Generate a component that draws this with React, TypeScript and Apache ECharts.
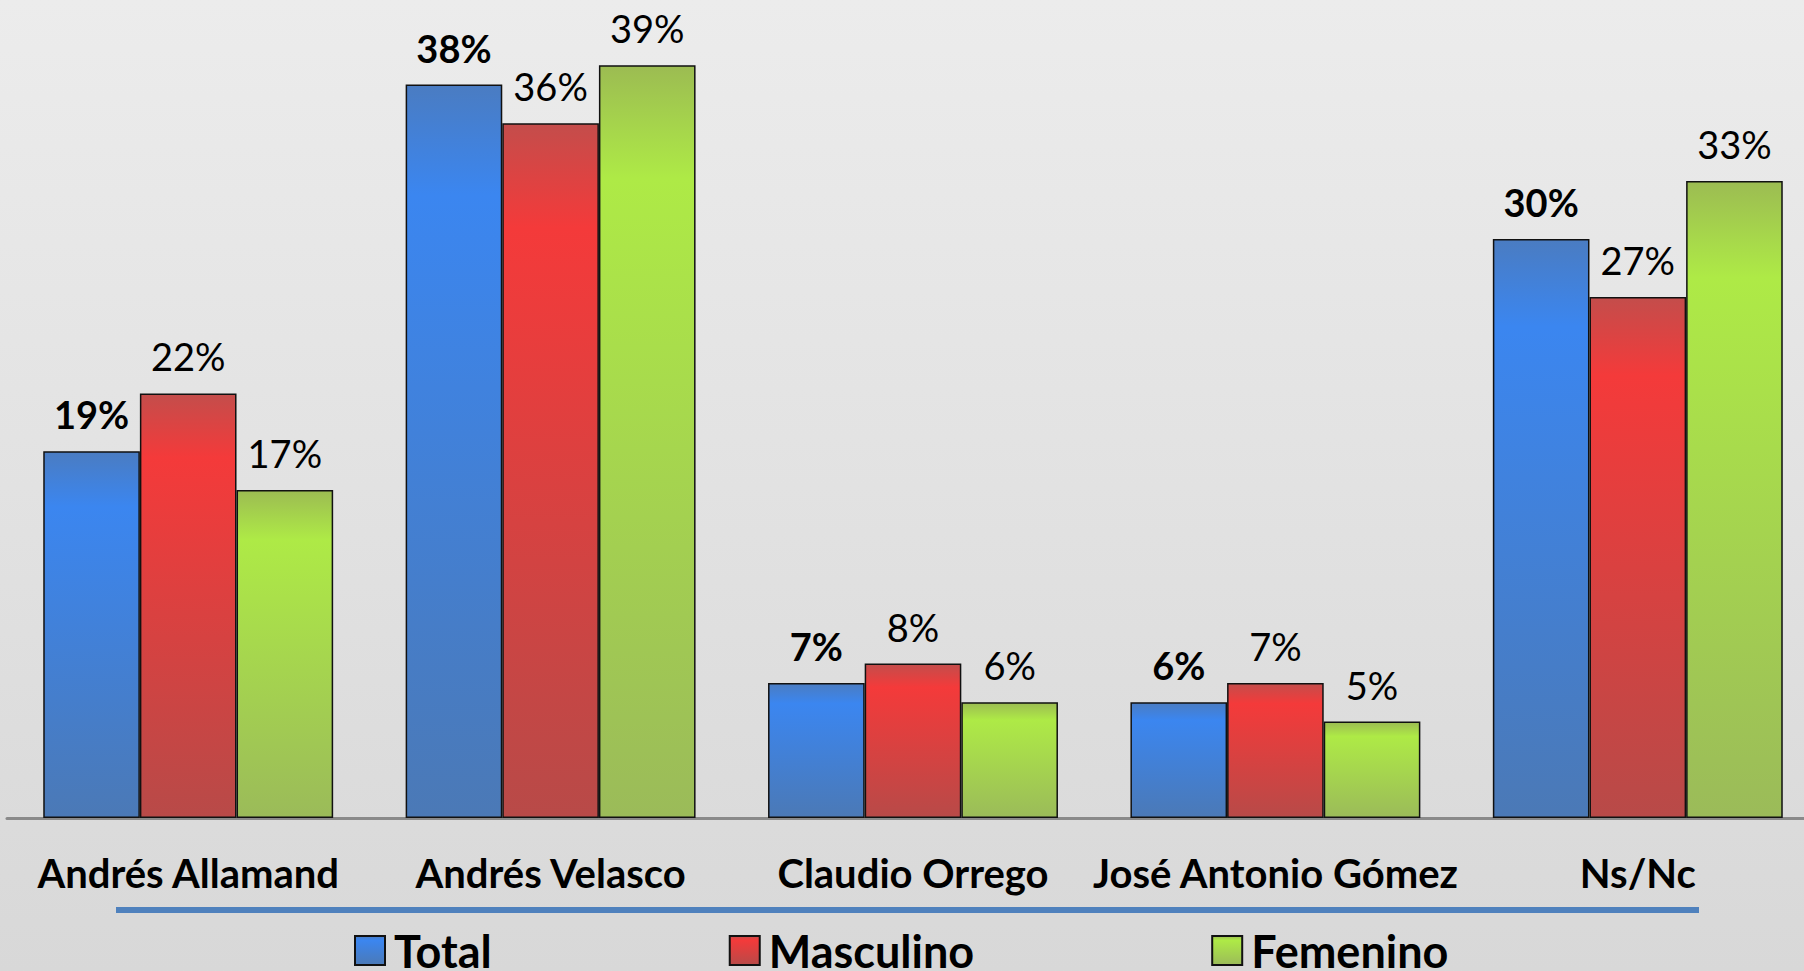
import React, { useEffect, useRef } from "react";
import * as echarts from "echarts";

const categories = ["Andrés Allamand", "Andrés Velasco", "Claudio Orrego", "José Antonio Gómez", "Ns/Nc"];
const seriesNames = ["Total", "Masculino", "Femenino"];
const totalValues = [19, 38, 7, 6, 30];
const masculinoValues = [22, 36, 8, 7, 27];
const femeninoValues = [17, 39, 6, 5, 33];

const FONT = "Lato, 'Open Sans', sans-serif";

function grad(top: string, bright: string, bottom: string) {
  return new echarts.graphic.LinearGradient(0, 0, 0, 1, [
    { offset: 0, color: top },
    { offset: 0.15, color: bright },
    { offset: 1, color: bottom },
  ]);
}

export default function App() {
  const ref = useRef<HTMLDivElement>(null);
  useEffect(() => {
    if (!ref.current) return;
    const chart = echarts.init(ref.current, undefined, { renderer: "svg" });
    const mk = (name: string, data: number[], colors: [string, string, string], bold: boolean) => ({
      name,
      type: "bar",
      data,
      barGap: "0%",
      barCategoryGap: "20%",
      itemStyle: {
        color: grad(colors[0], colors[1], colors[2]),
        borderColor: "#111",
        borderWidth: 1.5,
      },
      label: {
        show: true,
        position: "top",
        distance: 18,
        formatter: "{c}%",
        fontFamily: FONT,
        fontSize: 38,
        fontWeight: bold ? "bold" : "normal",
        color: "#000",
      },
    });
    chart.setOption({
      animation: false,
      backgroundColor: new echarts.graphic.LinearGradient(0, 0, 0, 1, [
        { offset: 0, color: "#ececec" },
        { offset: 1, color: "#d8d8d8" },
      ]),
      grid: { left: 7, width: 1812, top: 46, height: 772, containLabel: false },
      xAxis: {
        type: "category",
        data: categories,
        axisLine: { show: true, lineStyle: { color: "#8a8a8a", width: 3 } },
        axisTick: { show: false },
        axisLabel: {
          margin: 35,
          fontFamily: FONT,
          fontSize: 40,
          fontWeight: "bold",
          color: "#000",
          interval: 0,
        },
      },
      yAxis: {
        type: "value",
        min: 0,
        max: 40,
        show: false,
        splitLine: { show: false },
      },
      legend: {
        data: seriesNames,
        left: 349,
        top: 923,
        itemWidth: 30,
        itemHeight: 29,
        itemGap: 237,
        icon: "rect",
        textStyle: {
          fontFamily: FONT,
          fontSize: 45,
          fontWeight: "bold",
          color: "#000",
          padding: [0, 0, 0, 4],
        },
      },
      graphic: [
        {
          type: "line",
          shape: { x1: 116, y1: 910, x2: 1699, y2: 910 },
          style: { stroke: "#4f81bd", lineWidth: 6 },
        },
      ],
      series: [
        mk("Total", totalValues, ["#4a7cc2", "#3b86f0", "#4b79b6"], true),
        mk("Masculino", masculinoValues, ["#c44d4b", "#f43a3a", "#b84a48"], false),
        mk("Femenino", femeninoValues, ["#9cbc52", "#aeea46", "#9bbb59"], false),
      ],
    });
    return () => chart.dispose();
  }, []);
  return (
    <div style={{ position: "fixed", left: 0, top: 0, width: 1804, height: 971, overflow: "hidden" }}>
      <div ref={ref} style={{ width: 1830, height: 971 }} />
    </div>
  );
}
